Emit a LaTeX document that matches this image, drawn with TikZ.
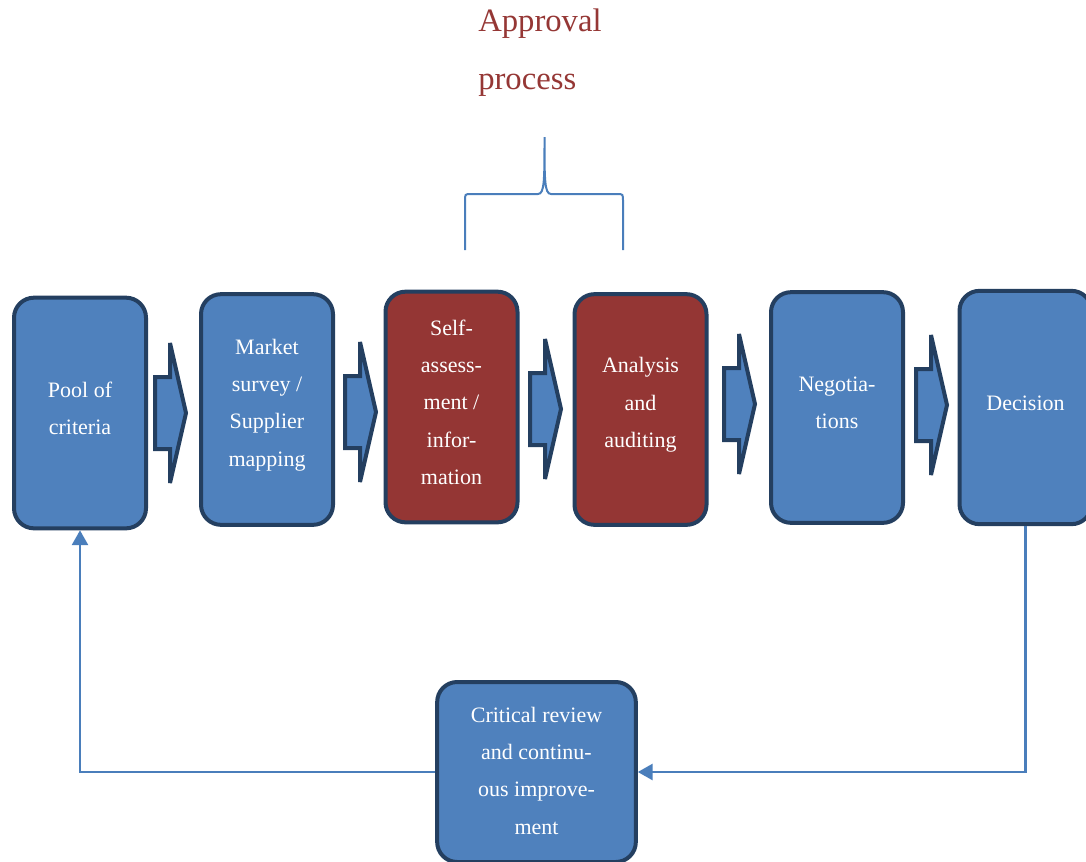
\documentclass[tikz,border=0pt]{standalone}
\usepackage{fontspec}
\setmainfont{Liberation Serif}
\usetikzlibrary{arrows.meta}
\definecolor{boxblue}{HTML}{4F81BD}
\definecolor{boxnavy}{HTML}{243F60}
\definecolor{boxred}{HTML}{943634}
\definecolor{linkblue}{HTML}{4A7EBB}
\definecolor{titlered}{HTML}{953735}
\tikzset{
  stage/.style={draw=boxnavy, line width=3pt, fill=boxblue, rounded corners=15pt,
    minimum width=99pt, minimum height=173pt, inner sep=0pt},
  redstage/.style={stage, fill=boxred},
  stagetext/.style={text=white, align=center, inner sep=0pt,
    font=\fontsize{16.5pt}{28pt}\selectfont},
  barrow/.style={draw=boxnavy, fill=boxblue, line width=3pt, line join=miter, miter limit=4},
  blockarrow/.pic={\draw[barrow] (-31,-36) -- (-16,-36) -- (-16,-70) -- (0,0)
    -- (-16,70) -- (-16,36) -- (-31,36) -- cycle;},
  link/.style={draw=linkblue, line width=1.6pt},
  linkarrow/.style={link, -{Triangle[length=11pt,width=12pt]}},
}
\begin{document}
\begin{tikzpicture}[x=0.75pt,y=-0.75pt]
\clip (0,0) rectangle (1086,861);

% title and brace
\node[anchor=north west, inner sep=0pt, align=left, text=titlered,
  font=\fontsize{24.5pt}{43.5pt}\selectfont] (title) at (478,9) {Approval\\process};
\draw[link, line width=1.5pt] (465,250) -- (465,201) .. controls (465,194) .. (471,194)
  -- (538,194) .. controls (544.5,194) and (544.5,180) .. (544.5,137)
  .. controls (544.5,180) and (544.5,194) .. (551,194) -- (617,194)
  .. controls (623,194) .. (623,201) -- (623,250);

% process stages
\node[stage] (pool) at (80,413) {};
\node[stage] (market) at (267,409.5) {};
\node[redstage] (self) at (451.5,407) {};
\node[redstage] (audit) at (640.5,409.5) {};
\node[stage] (nego) at (837,407.5) {};
\node[stage, minimum height=175pt] (dec) at (1025.5,407.5) {};
\node[stage, minimum width=149pt, minimum height=135pt] (crit) at (536.5,772) {};

\node[stagetext] (poolt) at ([yshift=3.5pt]pool.center) {Pool of\\criteria};
\node[stagetext] (markett) at ([yshift=3.5pt]market.center) {Market\\survey /\\Supplier\\mapping};
\node[stagetext] (selft) at ([yshift=3.5pt]self.center) {Self-\\assess-\\ment /\\infor-\\mation};
\node[stagetext] (auditt) at ([yshift=3.5pt]audit.center) {Analysis\\and\\auditing};
\node[stagetext] (negot) at ([yshift=3.5pt]nego.center) {Negotia-\\tions};
\node[stagetext] (dect) at ([yshift=3.5pt]dec.center) {Decision};
\node[stagetext] (critt) at ([yshift=1pt]crit.center) {Critical review\\and continu-\\ous improve-\\ment};

% block arrows between stages
\pic at (186,413) {blockarrow};
\pic at (376,412) {blockarrow};
\pic at (561,409) {blockarrow};
\pic at (755,404) {blockarrow};
\pic at (947,405) {blockarrow};

% feedback loop
\draw[linkarrow] (dec.south) |- (crit.east);
\draw[linkarrow] (crit.west) -| (pool.south);
\end{tikzpicture}
\end{document}
